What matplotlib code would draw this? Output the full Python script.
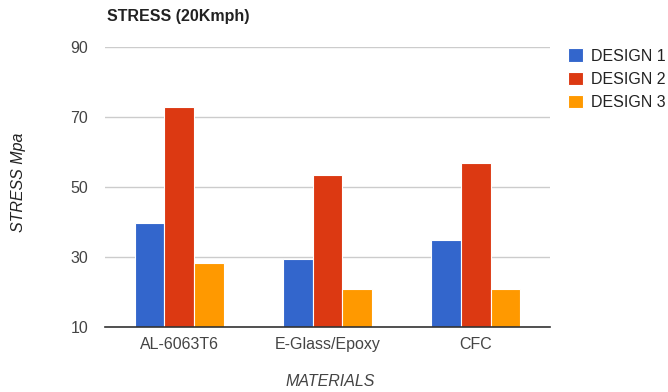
import matplotlib.pyplot as plt
import numpy as np

plt.rcParams['font.family'] = ['Liberation Sans', 'DejaVu Sans']

categories = ["AL-6063T6", "E-Glass/Epoxy", "CFC"]
series_names = ["DESIGN 1", "DESIGN 2", "DESIGN 3"]
design1 = [39.7, 29.3, 34.8]
design2 = [72.9, 53.3, 57.0]
design3 = [28.4, 20.9, 20.9]
colors = ["#3366cc", "#dc3912", "#ff9900"]
yticks = [10, 30, 50, 70, 90]

W, H = 668, 392
fig = plt.figure(figsize=(W / 100, H / 100), dpi=100)
left, right, top, bottom = 105, 550, 47, 327
ax = fig.add_axes([left / W, 1 - bottom / H, (right - left) / W, (bottom - top) / H])

x = np.arange(len(categories))
bw = 0.2
for i, (vals, name, c) in enumerate(zip([design1, design2, design3], series_names, colors)):
    ax.bar(x + (i - 1) * bw, vals, width=bw, color=c, edgecolor='white', linewidth=0.8,
           label=name, zorder=3)

fs = 11.5
ax.set_xlim(-0.5, len(categories) - 0.5)
ax.set_ylim(10, 90)
ax.set_yticks(yticks)
ax.set_xticks(x)
ax.set_xticklabels(categories)
ax.grid(axis='y', color='#cccccc', linewidth=1, zorder=0)
for s in ['top', 'right', 'left']:
    ax.spines[s].set_visible(False)
ax.spines['bottom'].set_color('#333333')
ax.spines['bottom'].set_linewidth(1.2)
ax.spines['bottom'].set_zorder(4)
ax.tick_params(axis='both', length=0, labelsize=fs, colors='#444444')
ax.tick_params(axis='y', pad=12)
ax.tick_params(axis='x', pad=7)

fig.text(107 / W, 1 - 16 / H, "STRESS (20Kmph)", fontsize=fs, fontweight='bold',
         color='#222222', ha='left', va='center')
fig.text(19 / W, 1 - 182 / H, "STRESS Mpa", fontsize=fs, style='italic', color='#222222',
         rotation=90, ha='center', va='center')
fig.text(330 / W, 1 - 381 / H, "MATERIALS", fontsize=fs, style='italic', color='#444444',
         ha='center', va='center')

leg = ax.legend(loc='upper left', bbox_to_anchor=(562 / W, 1 - 42 / H),
                bbox_transform=fig.transFigure, frameon=False, fontsize=fs,
                handlelength=0.94, handleheight=0.94, handletextpad=0.5, labelspacing=0.49,
                borderaxespad=0)
for t in leg.get_texts():
    t.set_color('#222222')

fig.savefig("out.png", dpi=100)
